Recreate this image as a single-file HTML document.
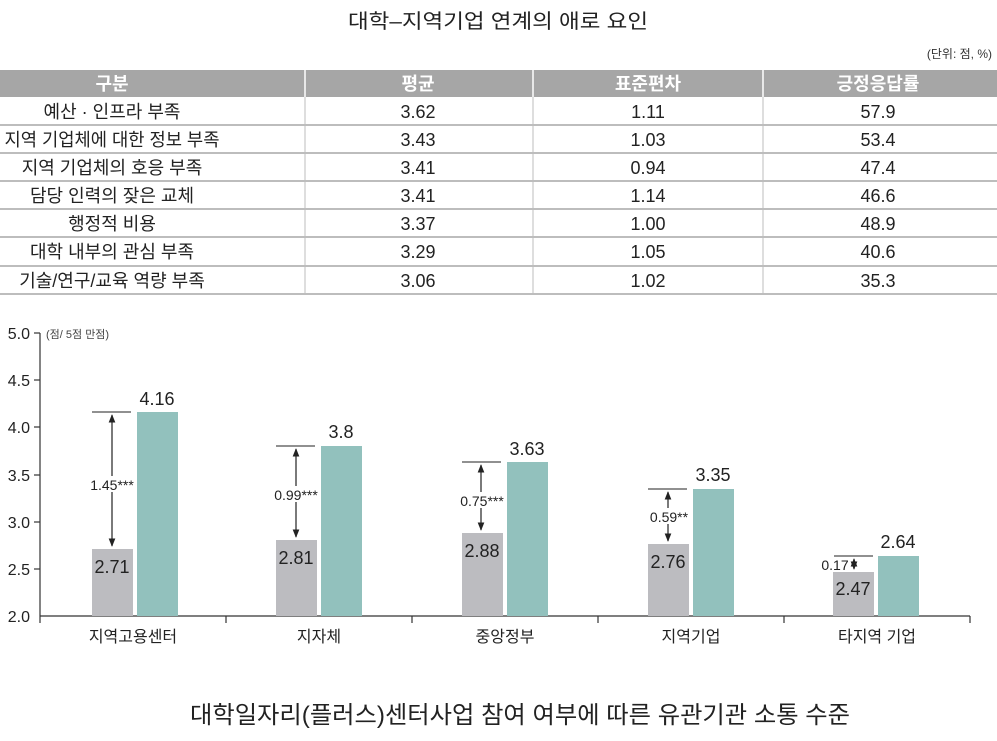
<!DOCTYPE html>
<html><head><meta charset="utf-8"><style>
body{margin:0;background:#fff;}
svg{display:block;font-family:"Liberation Sans","Noto Sans CJK KR",sans-serif;}
</style></head><body>
<svg width="997" height="741" viewBox="0 0 997 741" xmlns="http://www.w3.org/2000/svg">
<defs><marker id="ah" viewBox="0 0 10 10" refX="9" refY="5" markerWidth="7" markerHeight="7" orient="auto-start-reverse"><path d="M0,1 L10,5 L0,9 z" fill="#222"/></marker></defs>
<text x="498" y="28" font-size="20" text-anchor="middle" fill="#222" textLength="300" lengthAdjust="spacingAndGlyphs">대학–지역기업 연계의 애로 요인</text>
<text x="992" y="58" font-size="12" text-anchor="end" fill="#333">(단위: 점, %)</text>
<rect x="0" y="70" width="997" height="27" fill="#a6a6a6"/>
<g stroke="#fff" stroke-width="1.5"><line x1="305" y1="70" x2="305" y2="97"/><line x1="533" y1="70" x2="533" y2="97"/><line x1="763" y1="70" x2="763" y2="97"/></g>
<g fill="#fff" font-size="18" font-weight="bold" text-anchor="middle"><text x="112" y="90">구분</text><text x="418" y="90">평균</text><text x="648" y="90">표준편차</text><text x="878" y="90">긍정응답률</text></g>
<g stroke="#bdbdbd" stroke-width="2"><line x1="0" y1="125" x2="997" y2="125"/><line x1="0" y1="153" x2="997" y2="153"/><line x1="0" y1="181" x2="997" y2="181"/><line x1="0" y1="209" x2="997" y2="209"/><line x1="0" y1="237" x2="997" y2="237"/><line x1="0" y1="266" x2="997" y2="266"/><line x1="0" y1="294" x2="997" y2="294"/></g>
<g stroke="#bdbdbd" stroke-width="1"><line x1="305" y1="97" x2="305" y2="294"/><line x1="533" y1="97" x2="533" y2="294"/><line x1="763" y1="97" x2="763" y2="294"/></g>
<g font-size="18" fill="#222" text-anchor="middle">
<text x="112" y="118">예산 · 인프라 부족</text><text x="418" y="118">3.62</text><text x="648" y="118">1.11</text><text x="878" y="118">57.9</text>
<text x="112" y="146" textLength="215" lengthAdjust="spacingAndGlyphs">지역 기업체에 대한 정보 부족</text><text x="418" y="146">3.43</text><text x="648" y="146">1.03</text><text x="878" y="146">53.4</text>
<text x="112" y="174">지역 기업체의 호응 부족</text><text x="418" y="174">3.41</text><text x="648" y="174">0.94</text><text x="878" y="174">47.4</text>
<text x="112" y="202">담당 인력의 잦은 교체</text><text x="418" y="202">3.41</text><text x="648" y="202">1.14</text><text x="878" y="202">46.6</text>
<text x="112" y="230">행정적 비용</text><text x="418" y="230">3.37</text><text x="648" y="230">1.00</text><text x="878" y="230">48.9</text>
<text x="112" y="258">대학 내부의 관심 부족</text><text x="418" y="258">3.29</text><text x="648" y="258">1.05</text><text x="878" y="258">40.6</text>
<text x="112" y="287">기술/연구/교육 역량 부족</text><text x="418" y="287">3.06</text><text x="648" y="287">1.02</text><text x="878" y="287">35.3</text>
</g>
<g stroke="#333" stroke-width="1.2" fill="none">
<line x1="40" y1="333" x2="40" y2="616"/><line x1="40" y1="616" x2="970" y2="616"/>
<line x1="34" y1="333" x2="40" y2="333"/><line x1="34" y1="380" x2="40" y2="380"/><line x1="34" y1="427" x2="40" y2="427"/><line x1="34" y1="475" x2="40" y2="475"/><line x1="34" y1="522" x2="40" y2="522"/><line x1="34" y1="569" x2="40" y2="569"/>
<line x1="40" y1="616" x2="40" y2="623"/><line x1="226" y1="616" x2="226" y2="623"/><line x1="412" y1="616" x2="412" y2="623"/><line x1="598" y1="616" x2="598" y2="623"/><line x1="784" y1="616" x2="784" y2="623"/><line x1="970" y1="616" x2="970" y2="623"/>
</g>
<g font-size="16" fill="#222" text-anchor="end"><text x="30" y="339">5.0</text><text x="30" y="386">4.5</text><text x="30" y="433">4.0</text><text x="30" y="481">3.5</text><text x="30" y="528">3.0</text><text x="30" y="575">2.5</text><text x="30" y="622">2.0</text></g>
<text x="46" y="338" font-size="11" fill="#444">(점/ 5점 만점)</text>
<g fill="#bcbcc0"><rect x="92" y="549" width="41" height="67"/><rect x="276" y="540" width="41" height="76"/><rect x="462" y="533" width="41" height="83"/><rect x="648" y="544" width="41" height="72"/><rect x="833" y="572" width="41" height="44"/></g>
<g fill="#92c1bd"><rect x="137" y="412" width="41" height="204"/><rect x="321" y="446" width="41" height="170"/><rect x="507" y="462" width="41" height="154"/><rect x="693" y="489" width="41" height="127"/><rect x="878" y="556" width="41" height="60"/></g>
<g font-size="18" fill="#222" text-anchor="middle">
<text x="157" y="405">4.16</text><text x="341" y="438">3.8</text><text x="527" y="455">3.63</text><text x="713" y="481">3.35</text><text x="898" y="548">2.64</text>
<text x="112" y="573">2.71</text><text x="296" y="564">2.81</text><text x="482" y="557">2.88</text><text x="668" y="568">2.76</text><text x="853" y="595">2.47</text>
</g>
<g stroke="#222" stroke-width="1"><line x1="92" y1="412" x2="131" y2="412"/><line x1="276" y1="446" x2="315" y2="446"/><line x1="462" y1="462" x2="501" y2="462"/><line x1="648" y1="489" x2="687" y2="489"/><line x1="834" y1="556" x2="873" y2="556"/></g>
<g stroke="#222" stroke-width="1.2" marker-start="url(#ah)" marker-end="url(#ah)">
<line x1="112" y1="415" x2="112" y2="546"/><line x1="296" y1="449" x2="296" y2="537"/><line x1="481" y1="465" x2="481" y2="530"/><line x1="668" y1="492" x2="668" y2="541"/><line x1="854" y1="559" x2="854" y2="569"/>
</g>
<g font-size="14" fill="#222" text-anchor="middle">
<rect x="88" y="476" width="48" height="16" fill="#fff"/><text x="112" y="490">1.45***</text>
<rect x="272" y="486" width="48" height="16" fill="#fff"/><text x="296" y="500">0.99***</text>
<rect x="458" y="492" width="48" height="16" fill="#fff"/><text x="482" y="506">0.75***</text>
<rect x="647" y="508" width="44" height="16" fill="#fff"/><text x="669" y="522">0.59**</text>
<text x="835" y="570">0.17</text>
</g>
<g font-size="16" fill="#222" text-anchor="middle"><text x="133" y="642">지역고용센터</text><text x="319" y="642">지자체</text><text x="505" y="642">중앙정부</text><text x="691" y="642">지역기업</text><text x="877" y="642">타지역 기업</text></g>
<text x="520" y="723" font-size="24" text-anchor="middle" fill="#222" textLength="660" lengthAdjust="spacingAndGlyphs">대학일자리(플러스)센터사업 참여 여부에 따른 유관기관 소통 수준</text>
</svg>
</body></html>
